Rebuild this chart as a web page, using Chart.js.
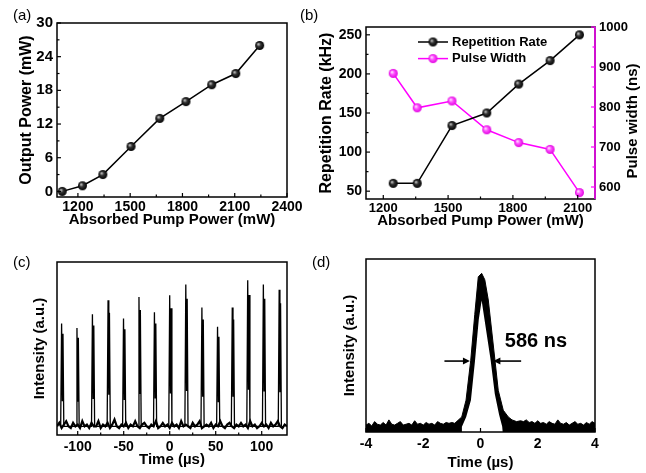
<!DOCTYPE html>
<html>
<head>
<meta charset="utf-8">
<script src="https://cdn.jsdelivr.net/npm/chart.js@4"></script>
<style>
  body { margin: 0; background: #fff; }
  #wrap { position: relative; width: 646px; height: 473px; overflow: hidden; background: #fff;
          font-family: "Liberation Sans", Arial, sans-serif; }
  canvas { position: absolute; }
  .tag { position: absolute; font-size: 15px; line-height: 1; color: #000; }
</style>
</head>
<body>
<div id="wrap">
  <canvas id="ca" width="320" height="230" style="left:0;top:0"></canvas>
  <canvas id="cb" width="334" height="230" style="left:312px;top:0"></canvas>
  <canvas id="cc" width="320" height="243" style="left:0;top:230px"></canvas>
  <canvas id="cd" width="334" height="243" style="left:312px;top:230px"></canvas>
  <div class="tag" style="left:13px;top:7px">(a)</div>
  <div class="tag" style="left:300px;top:7px">(b)</div>
  <div class="tag" style="left:13px;top:254px">(c)</div>
  <div class="tag" style="left:312px;top:254px">(d)</div>
</div>
<script>
// (a) output power vs absorbed pump power
const aPump = [1110, 1226, 1343, 1505, 1670, 1820, 1968, 2106, 2243];
const aOutput = [0, 1, 3, 8, 13, 16, 19, 21, 26];
const aXTicks = [1200, 1500, 1800, 2100, 2400];
const aYTicks = [0, 6, 12, 18, 24, 30];

// (b) repetition rate and pulse width
const bPump = [1246, 1357, 1518, 1679, 1827, 1972, 2108];
const bRate = [60, 60, 134, 150, 187, 217, 250];
const bWidth = [884, 798, 815, 743, 711, 694, 586];
const bXTicks = [1200, 1500, 1800, 2100];
const bRateTicks = [50, 100, 150, 200, 250];
const bWidthTicks = [600, 700, 800, 900, 1000];

// (c) pulse train (time in us, intensity a.u.)
const cPulseTimes = [-117.5, -100.8, -84, -67, -50.2, -33.4, -16.6, 0, 17.5, 35, 52, 68, 84.8, 101.8, 119];
const cPulsePeaks = [0.645, 0.619, 0.698, 0.779, 0.673, 0.798, 0.71, 0.808, 0.87, 0.737, 0.625, 0.737, 0.894, 0.87, 0.84];
const cNoiseStart = -122.5, cNoiseStep = 2.5;
const cNoise = [
  0.05, 0.07, 0.04, 0.06, 0.08, 0.05, 0.04, 0.07, 0.05, 0.06,
  0.04, 0.08, 0.05, 0.06, 0.04, 0.07, 0.05, 0.05, 0.08, 0.04,
  0.06, 0.05, 0.07, 0.04, 0.06, 0.09, 0.05, 0.04, 0.06, 0.05,
  0.07, 0.04, 0.06, 0.05, 0.08, 0.05, 0.04, 0.06, 0.07, 0.05,
  0.04, 0.06, 0.05, 0.08, 0.04, 0.05, 0.07, 0.05, 0.06, 0.04,
  0.07, 0.05, 0.06, 0.04, 0.08, 0.05, 0.06, 0.05, 0.04, 0.07,
  0.05, 0.06, 0.08, 0.04, 0.05, 0.06, 0.05, 0.07, 0.04, 0.06,
  0.05, 0.08, 0.05, 0.04, 0.06, 0.07, 0.05, 0.04, 0.06, 0.05,
  0.07, 0.05, 0.06, 0.04, 0.08, 0.05, 0.06, 0.04, 0.05, 0.07,
  0.05, 0.06, 0.04, 0.07, 0.05, 0.06, 0.08, 0.05, 0.04, 0.06,
  0.05
];
const cBase = 0.05;
// one pulse: [time offset, fraction of peak] (main spike + shoulder spike)
const cPulseProfile = [[-1.0, 0], [0, 1], [0.8, 0.25], [1.5, 0.9], [2.4, 0]];
const cXTicks = [-100, -50, 0, 50, 100];

// (d) single pulse
const dEdgeT = [-0.9, -0.655, -0.505, -0.341, -0.2, -0.077, 0.04, 0.15, 0.272, 0.505, 0.62, 0.795, 0.97, 1.1, 1.26];
const dEdgeI = [0.05, 0.087, 0.184, 0.415, 0.68, 0.897, 0.917, 0.88, 0.763, 0.415, 0.241, 0.126, 0.087, 0.07, 0.06];
const dHoleT = [-0.68, -0.65, -0.5, -0.335, -0.19, -0.06, 0.04, 0.14, 0.355, 0.5, 0.65, 0.76, 0.78];
const dHoleI = [0, 0.03, 0.087, 0.184, 0.415, 0.65, 0.76, 0.65, 0.415, 0.22, 0.1, 0.03, 0];
const dNoiseLeft = [0.04, 0.05, 0.035, 0.06, 0.045, 0.04, 0.055, 0.04, 0.07, 0.045, 0.04, 0.05, 0.06, 0.04, 0.045, 0.05,
  0.04, 0.065, 0.045, 0.05, 0.04, 0.055, 0.045, 0.05, 0.04, 0.06, 0.05, 0.045, 0.055, 0.05, 0.055];
const dNoiseRight = [0.065, 0.06, 0.07, 0.055, 0.06, 0.05, 0.065, 0.05, 0.055, 0.045, 0.06, 0.05, 0.045, 0.07,
  0.05, 0.045, 0.055, 0.04, 0.05, 0.06, 0.045, 0.05, 0.04, 0.055, 0.045, 0.06, 0.05];
const dNoiseStep = 0.1;
const dXTicks = [-4, -2, 0, 2, 4];
const dArrowLeft = [-1.26, -0.37];
const dArrowRight = [1.42, 0.45];
const dArrowLevel = 0.41;
const dLabel = '586 ns';
const dLabelAt = [0.85, 0.525];

Chart.defaults.font.family = "'Liberation Sans', Arial, sans-serif";
Chart.defaults.color = '#000';

function sphere(c0, c1, c2, r) {
  const c = document.createElement('canvas');
  const d = Math.ceil(r * 2) + 2;
  c.width = c.height = d;
  const g = c.getContext('2d');
  const m = d / 2;
  const grad = g.createRadialGradient(m - r * 0.35, m - r * 0.35, 0, m, m, r);
  grad.addColorStop(0, c0);
  grad.addColorStop(0.45, c1);
  grad.addColorStop(1, c2);
  g.fillStyle = grad;
  g.beginPath();
  g.arc(m, m, r, 0, Math.PI * 2);
  g.fill();
  return c;
}
const blackBall = sphere('#e0e0e0', '#333', '#000', 4.5);
const pinkBall = sphere('#ffffff', '#ff55ff', '#e000e0', 4.5);

// frame around the plot area + short inward ticks (major and minor)
const frame = {
  id: 'frame',
  afterDatasetsDraw(chart, args, opts) {
    const { ctx, chartArea: a } = chart;
    ctx.save();
    ctx.strokeStyle = '#000';
    ctx.lineWidth = 1.5;
    ctx.strokeRect(a.left, a.top, a.right - a.left, a.bottom - a.top);
    if (opts.rightColor) {
      ctx.strokeStyle = opts.rightColor;
      ctx.beginPath();
      ctx.moveTo(a.right, a.top);
      ctx.lineTo(a.right, a.bottom);
      ctx.stroke();
    }
    (opts.ticks || []).forEach(t => {
      const s = chart.scales[t.id];
      const vals = s.ticks.map(k => k.value);
      ctx.strokeStyle = t.color || '#000';
      ctx.lineWidth = 1.2;
      const mark = (v, len) => {
        const p = s.getPixelForValue(v);
        ctx.beginPath();
        if (s.isHorizontal()) { ctx.moveTo(p, a.bottom); ctx.lineTo(p, a.bottom - len); }
        else if (s.position === 'left') { ctx.moveTo(a.left, p); ctx.lineTo(a.left + len, p); }
        else { ctx.moveTo(a.right, p); ctx.lineTo(a.right - len, p); }
        ctx.stroke();
      };
      vals.forEach(v => mark(v, 4));
      for (let i = 1; i < vals.length; i++) mark((vals[i - 1] + vals[i]) / 2, 2.5);
    });
    ctx.restore();
  }
};

// right-hand axis title reading bottom-to-top, as in the original
const sideTitle = {
  id: 'sideTitle',
  afterDraw(chart, args, opts) {
    const { ctx, chartArea: a } = chart;
    ctx.save();
    ctx.translate(chart.width - opts.inset, (a.top + a.bottom) / 2 + opts.shift);
    ctx.rotate(-Math.PI / 2);
    ctx.fillStyle = '#000';
    ctx.font = "bold 15px 'Liberation Sans', Arial, sans-serif";
    ctx.textAlign = 'center';
    ctx.textBaseline = 'middle';
    ctx.fillText(opts.text, 0, 0);
    ctx.restore();
  }
};

// legend inside plot (b)
const innerLegend = {
  id: 'innerLegend',
  afterDraw(chart, args, opts) {
    const { ctx, chartArea: a } = chart;
    ctx.save();
    chart.data.datasets.forEach((ds, i) => {
      const x0 = a.left + opts.left;
      const y = a.top + opts.top + i * opts.gap;
      ctx.strokeStyle = ds.borderColor;
      ctx.lineWidth = 1.5;
      ctx.beginPath();
      ctx.moveTo(x0, y);
      ctx.lineTo(x0 + 30, y);
      ctx.stroke();
      const img = ds.pointStyle;
      ctx.drawImage(img, x0 + 15 - img.width / 2, y - img.height / 2);
      ctx.fillStyle = '#000';
      ctx.font = "bold 13px 'Liberation Sans', Arial, sans-serif";
      ctx.textBaseline = 'middle';
      ctx.fillText(ds.label, x0 + 34, y);
    });
    ctx.restore();
  }
};

// FWHM arrows and label in (d)
const fwhm = {
  id: 'fwhm',
  afterDatasetsDraw(chart) {
    const { ctx } = chart;
    const xs = chart.scales.x, ys = chart.scales.y;
    const y = ys.getPixelForValue(dArrowLevel);
    ctx.save();
    ctx.strokeStyle = '#000';
    ctx.fillStyle = '#000';
    ctx.lineWidth = 1.6;
    [dArrowLeft, dArrowRight].forEach(([from, to]) => {
      const x1 = xs.getPixelForValue(from), x2 = xs.getPixelForValue(to);
      const dir = Math.sign(x2 - x1);
      ctx.beginPath();
      ctx.moveTo(x1, y);
      ctx.lineTo(x2 - dir * 5, y);
      ctx.stroke();
      ctx.beginPath();
      ctx.moveTo(x2, y);
      ctx.lineTo(x2 - dir * 7, y - 3.5);
      ctx.lineTo(x2 - dir * 7, y + 3.5);
      ctx.closePath();
      ctx.fill();
    });
    ctx.font = "bold 20px 'Liberation Sans', Arial, sans-serif";
    ctx.textBaseline = 'middle';
    ctx.textAlign = 'left';
    ctx.fillText(dLabel, xs.getPixelForValue(dLabelAt[0]), ys.getPixelForValue(dLabelAt[1]));
    ctx.restore();
  }
};

function axis(cfg) {
  return {
    type: 'linear',
    position: cfg.position,
    min: cfg.min,
    max: cfg.max,
    grid: { display: false, drawTicks: false },
    border: { display: false },
    afterBuildTicks: s => { s.ticks = (cfg.ticks || []).map(v => ({ value: v })); },
    afterFit: s => {
      if (cfg.width != null) s.width = cfg.width;
      if (cfg.height != null) s.height = cfg.height;
    },
    ticks: {
      display: cfg.labels !== false,
      autoSkip: false,
      maxRotation: 0,
      padding: cfg.pad || 3,
      color: '#000',
      font: { size: cfg.fs || 13, weight: 'bold' },
      callback: v => String(v)
    },
    title: {
      display: !!cfg.title,
      text: cfg.title || '',
      color: '#000',
      font: { size: cfg.tfs || 15, weight: 'bold' },
      padding: cfg.tpad || 0
    }
  };
}

function common(padding, extra) {
  return {
    responsive: false,
    animation: false,
    devicePixelRatio: 1,
    layout: { padding },
    plugins: Object.assign({ legend: { display: false }, tooltip: { enabled: false } }, extra)
  };
}

// (a)
new Chart(document.getElementById('ca'), {
  type: 'line',
  data: {
    datasets: [{
      data: aPump.map((x, i) => ({ x, y: aOutput[i] })),
      borderColor: '#000', borderWidth: 1.5, tension: 0,
      pointStyle: blackBall, pointRadius: 4.5
    }]
  },
  options: Object.assign(common({ left: 0, top: 23, right: 33, bottom: 0 },
    { frame: { ticks: [{ id: 'x' }, { id: 'y' }] } }), {
    scales: {
      x: axis({ position: 'bottom', min: 1080, max: 2400, ticks: aXTicks, height: 33, pad: 2, fs: 14,
                title: 'Absorbed Pump Power (mW)', tfs: 15, tpad: { top: 0, bottom: 1 } }),
      y: axis({ position: 'left', min: -1, max: 30, ticks: aYTicks, width: 57, pad: 4, fs: 15,
                title: 'Output Power (mW)', tfs: 16, tpad: { top: 17, bottom: 0 } })
    }
  }),
  plugins: [frame]
});

// (b)
new Chart(document.getElementById('cb'), {
  type: 'line',
  data: {
    datasets: [{
      label: 'Repetition Rate',
      data: bPump.map((x, i) => ({ x, y: bRate[i] })),
      yAxisID: 'y',
      borderColor: '#000', borderWidth: 1.5, tension: 0,
      pointStyle: blackBall, pointRadius: 4.5
    }, {
      label: 'Pulse Width',
      data: bPump.map((x, i) => ({ x, y: bWidth[i] })),
      yAxisID: 'y1',
      borderColor: '#ff00ff', borderWidth: 1.5, tension: 0,
      pointStyle: pinkBall, pointRadius: 4.5
    }]
  },
  options: Object.assign(common({ left: 0, top: 27, right: 0, bottom: 0 }, {
    frame: { rightColor: '#ff00ff', ticks: [{ id: 'x' }, { id: 'y' }, { id: 'y1', color: '#ff00ff' }] },
    innerLegend: { left: 52, top: 15, gap: 16.6 },
    sideTitle: { text: 'Pulse width (ns)', inset: 13, shift: 8 }
  }), {
    scales: {
      x: axis({ position: 'bottom', min: 1120, max: 2180, ticks: bXTicks, height: 31, pad: 2, fs: 13,
                title: 'Absorbed Pump Power (mW)', tfs: 15, tpad: { top: 0, bottom: 0 } }),
      y: axis({ position: 'left', min: 40, max: 260, ticks: bRateTicks, width: 54, pad: 4, fs: 14,
                title: 'Repetition Rate (kHz)', tfs: 16, tpad: { top: 5, bottom: 0 } }),
      y1: axis({ position: 'right', min: 570, max: 1000, ticks: bWidthTicks, width: 51, pad: 4, fs: 13 })
    }
  }),
  plugins: [frame, innerLegend, sideTitle]
});

// (c)
const cPulses = [];
cPulseTimes.forEach((t, i) => {
  cPulseProfile.forEach(([dt, f]) => cPulses.push({ x: t + dt, y: cBase + f * (cPulsePeaks[i] - cBase) }));
});
const cFloor = cNoise.map((v, i) => ({ x: cNoiseStart + i * cNoiseStep, y: v }));

new Chart(document.getElementById('cc'), {
  type: 'line',
  data: {
    datasets: [
      { data: cPulses, borderColor: '#000', borderWidth: 1.3, pointRadius: 0, tension: 0 },
      { data: cFloor, borderColor: '#000', borderWidth: 2.2, pointRadius: 0, tension: 0 }
    ]
  },
  options: Object.assign(common({ left: 31, top: 32, right: 33, bottom: 0 },
    { frame: { ticks: [{ id: 'x' }] } }), {
    scales: {
      x: axis({ position: 'bottom', min: -122.5, max: 127.5, ticks: cXTicks, height: 38, pad: 4, fs: 14,
                title: 'Time (\u00b5s)', tfs: 15, tpad: { top: 0, bottom: 4 } }),
      y: axis({ position: 'left', min: 0, max: 1, ticks: [], width: 26, labels: false,
                title: 'Intensity (a.u.)', tfs: 15, tpad: { top: 0, bottom: 0 } })
    }
  }),
  plugins: [frame]
});

// (d)
const dOuter = [];
dNoiseLeft.forEach((v, i) => dOuter.push({ x: -4 + i * dNoiseStep, y: v }));
dEdgeT.forEach((t, i) => dOuter.push({ x: t, y: dEdgeI[i] }));
dNoiseRight.forEach((v, i) => dOuter.push({ x: 1.4 + i * dNoiseStep, y: v }));
const dHole = dHoleT.map((t, i) => ({ x: t, y: dHoleI[i] }));

new Chart(document.getElementById('cd'), {
  type: 'line',
  data: {
    datasets: [
      { data: dHole, borderWidth: 0, borderColor: '#fff', backgroundColor: '#fff', fill: 'origin', pointRadius: 0, tension: 0 },
      { data: dOuter, borderWidth: 1, borderColor: '#000', backgroundColor: '#000', fill: 'origin', pointRadius: 0, tension: 0 }
    ]
  },
  options: Object.assign(common({ left: 29, top: 29, right: 51, bottom: 0 },
    { frame: { ticks: [{ id: 'x' }] } }), {
    scales: {
      x: axis({ position: 'bottom', min: -4, max: 4, ticks: dXTicks, height: 41, pad: 4, fs: 14,
                title: 'Time (\u00b5s)', tfs: 15, tpad: { top: 0, bottom: 1 } }),
      y: axis({ position: 'left', min: 0, max: 1, ticks: [], width: 25, labels: false,
                title: 'Intensity (a.u.)', tfs: 15, tpad: { top: 0, bottom: 0 } })
    }
  }),
  plugins: [frame, fwhm]
});
</script>
</body>
</html>
